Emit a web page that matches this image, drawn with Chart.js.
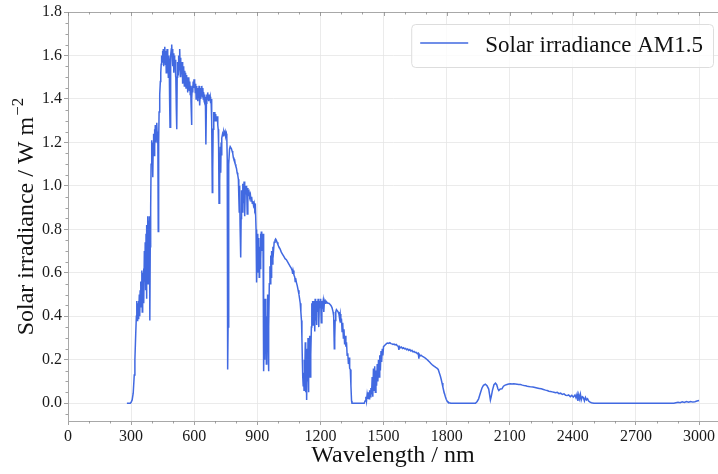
<!DOCTYPE html>
<html lang="en">
<head>
  <meta charset="UTF-8" />
  <title>Solar irradiance AM1.5</title>
  <script src="https://cdn.jsdelivr.net/npm/chart.js@4.4.1/dist/chart.umd.min.js"></script>
  <style>
    html, body { margin: 0; padding: 0; background: #fff; }
    #spectrum { display: block; }
  </style>
</head>
<body>
  <canvas id="spectrum" width="718" height="474"></canvas>

  <script>
    // AM1.5 spectrum, [wavelength nm, irradiance], split by band
    const uvBlue = [
      [280,0],[288,0],[296,0],[300,0.004],[305,0.015],[310,0.046],[315,0.13],[318,0.2],[322,0.32],[325,0.40],
      [327,0.47],[329,0.38],[331,0.46],[333,0.39],[335,0.47],[337,0.41],[339,0.5],[341,0.4],[343,0.52],[345,0.44],
      [347,0.56],[349,0.48],[351,0.61],[353,0.42],[355,0.6],[357,0.51],[359,0.62],[361,0.46],[363,0.7],[365,0.56],
      [367,0.74],[369,0.52],[371,0.78],[373,0.48],[375,0.82],[377,0.58],[379,0.86],[381,0.55],[383,0.84],[385,0.62],
      [387,0.86],[389,0.38],[391,0.72],[393,0.9],[395,1.1],[397,1.21],[399,1.14],[401,1.2],[403,1.04],[405,1.18],
      [407,1.24],[409,1.14],[411,1.26],[413,1.18],[415,1.28],[417,1.2],[419,1.27],[421,1.22],[423,1.29],[425,1.2],
      [427,1.25],[429,0.79],[431,1.2],[433,1.34],[435,1.38],[437,1.42],[439,1.48]
    ];
    const visible = [
      [441,1.52],[443,1.56],[445,1.6],[447,1.57],[449,1.62],[451,1.58],[453,1.63],[455,1.55],[457,1.62],[459,1.6],
      [461,1.64],[463,1.56],[465,1.62],[467,1.52],[469,1.6],[471,1.63],[473,1.55],[475,1.61],[477,1.5],[479,1.6],
      [481,1.58],[483,1.4],[485,1.27],[487,1.45],[489,1.6],[491,1.63],[493,1.65],[495,1.6],[497,1.63],[499,1.55],
      [501,1.61],[503,1.52],[505,1.6],[507,1.55],[509,1.58],[511,1.5],[513,1.54],[515,1.35],[517,1.26],[519,1.5],
      [521,1.57],[523,1.53],[525,1.6],[527,1.52],[529,1.58],[531,1.63],[533,1.55],[535,1.59],[537,1.5],[539,1.56],
      [541,1.52],[543,1.57],[545,1.47],[547,1.55],[549,1.5],[551,1.54],[553,1.46],[555,1.53],[557,1.49],[559,1.52],
      [561,1.45],[563,1.51],[565,1.46],[567,1.5],[569,1.43],[571,1.49],[573,1.45],[575,1.5],[577,1.44],[579,1.48],
      [581,1.42],[583,1.46],[585,1.38],[587,1.28],[589,1.4],[591,1.46],[593,1.43],[595,1.48],[597,1.45],[599,1.49],
      [601,1.46],[603,1.48],[605,1.43],[607,1.47],[609,1.4],[611,1.46],[613,1.42],[615,1.45],[617,1.39],[619,1.44],
      [621,1.41],[623,1.46],[625,1.4],[627,1.37],[629,1.44],[631,1.4],[633,1.45],[635,1.42],[637,1.46],[639,1.41],
      [641,1.45],[643,1.4],[645,1.43],[647,1.39],[649,1.42],[651,1.38],[653,1.41],[655,1.3],[656,1.19],[658,1.38],
      [660,1.42],[662,1.4],[664,1.43],[666,1.41],[668,1.42],[670,1.39],[672,1.42],[674,1.4],[676,1.41],[678,1.38],
      [680,1.4],[682,1.36],[684,1.3],[686,0.97],[688,1.08],[690,1.26],[692,1.3],[694,1.34],[696,1.31],[698,1.34],
      [700,1.3],[702,1.33],[704,1.3],[706,1.32],[708,1.3],[710,1.32],[712,1.28],[714,1.26],[716,1.18],[718,0.92],
      [720,1.12],[722,1.02],[724,1.18],[726,1.06],[728,1.2],[730,1.14],[732,1.22],[735,1.24],[738,1.23],[741,1.25],
      [744,1.24],[747,1.25],[750,1.23],[753,1.24],[755,1.22],[757,1.12],[759,0.155]
    ];
    const nearIR = [
      [761,0.35],[763,0.85],[765,1.1],[768,1.17],[771,1.18],[774,1.18],[777,1.17],[780,1.16],[783,1.15],[786,1.13],
      [789,1.12],[792,1.12],[795,1.1],[798,1.09],[801,1.08],[804,1.06],[807,1.05],[810,1.03],[812,0.95],[814,0.88],
      [816,1.0],[818,0.82],[821,0.67],[823,0.85],[825,0.98],[828,0.88],[831,1.01],[834,0.92],[837,1.02],[840,0.86],
      [843,1.0],[846,0.96],[849,1.0],[852,0.87],[855,0.99],[858,0.96],[861,0.97],[864,0.95],[867,0.96],[870,0.93],
      [873,0.95],[876,0.92],[879,0.93],[882,0.91],[885,0.92],[888,0.89],[891,0.9],[894,0.8],[896,0.7],[897,0.555],
      [899,0.72],[901,0.6],[903,0.78],[905,0.64],[907,0.76],[909,0.58],[911,0.72],[913,0.62],[915,0.78],[917,0.66],
      [919,0.79],[921,0.7],[923,0.78],[925,0.72],[927,0.78],[929,0.5],[931,0.147],[933,0.35],[935,0.2],[937,0.48],
      [939,0.26],[941,0.44],[943,0.18],[945,0.4],[947,0.25],[949,0.5],[951,0.3],[953,0.147],[955,0.35],[957,0.55],
      [960,0.63],[962,0.55],[964,0.68],[966,0.58],[968,0.7],[971,0.64],[974,0.72],[977,0.7],[980,0.74],[984,0.75],
      [987,0.755],[990,0.75],[994,0.74],[998,0.73]
    ];
    const ir1000 = [
      [1002,0.72],[1008,0.71],[1014,0.695],[1020,0.685],[1026,0.675],[1032,0.665],[1038,0.66],[1044,0.65],[1050,0.64],
      [1056,0.63],[1062,0.62],[1066,0.61],[1068,0.595],[1070,0.61],[1074,0.59],[1078,0.58],[1080,0.56],[1082,0.575],
      [1086,0.555],[1090,0.54],[1094,0.52],[1098,0.5],[1101,0.48],[1104,0.46],[1107,0.42],[1110,0.38],[1112,0.3],
      [1114,0.2],[1116,0.12],[1118,0.08],[1120,0.14],[1122,0.06],[1124,0.2],[1126,0.1],[1128,0.28],[1130,0.05],
      [1132,0.25],[1134,0.03],[1135,0.015],[1137,0.22],[1139,0.1],[1141,0.3],[1143,0.05],[1145,0.28],[1147,0.15],
      [1149,0.31],[1151,0.12],[1153,0.3],[1155,0.22],[1157,0.35],[1159,0.46],[1161,0.4],[1163,0.47],[1165,0.36],
      [1167,0.47],[1169,0.4],[1171,0.46],[1173,0.33],[1175,0.48],[1177,0.38],[1179,0.47],[1181,0.36],[1183,0.46],
      [1186,0.42],[1189,0.48],[1192,0.35],[1195,0.47],[1198,0.44],[1201,0.48],[1204,0.37],[1207,0.47],[1210,0.45],
      [1213,0.47],[1216,0.42],[1219,0.47],[1222,0.46],[1226,0.47],[1230,0.465],[1235,0.46],[1240,0.46],[1245,0.455],
      [1250,0.45],[1255,0.44],[1260,0.42],[1263,0.4],[1266,0.25],[1268,0.3],[1270,0.38],[1273,0.42],[1276,0.43],
      [1280,0.425],[1284,0.42],[1288,0.41],[1291,0.39],[1294,0.41],[1297,0.37],[1300,0.39],[1303,0.33],[1306,0.37],
      [1309,0.3],[1312,0.34],[1315,0.27],[1318,0.31],[1321,0.26],[1324,0.28],[1327,0.22],[1330,0.23],[1333,0.18],
      [1336,0.21],[1339,0.16],[1342,0.155],[1345,0.08],[1348,0.01]
    ];
    const ir1350 = [
      [1350,0],[1370,0],[1390,0],[1408,0],[1412,0.01],[1416,0.03],[1419,0.01],[1422,0.04],[1425,0.02],[1428,0.05],
      [1431,0.02],[1434,0.06],[1437,0.03],[1440,0.07],[1443,0.04],[1446,0.12],[1449,0.03],[1452,0.16],[1455,0.06],
      [1458,0.17],[1461,0.05],[1464,0.15],[1467,0.08],[1470,0.18],[1473,0.1],[1476,0.2],[1479,0.12],[1482,0.22],
      [1485,0.15],[1488,0.24],[1491,0.19],[1494,0.25],[1497,0.22],[1500,0.26],[1505,0.265],[1510,0.27],[1515,0.275],
      [1520,0.277],[1525,0.275],[1530,0.278],[1535,0.274],[1540,0.273],[1545,0.27],[1550,0.272],[1555,0.268],
      [1560,0.27],[1565,0.265],[1570,0.262],[1573,0.245],[1576,0.26],[1580,0.255],[1585,0.258],[1590,0.252],
      [1595,0.255],[1600,0.25],[1605,0.252],[1610,0.246],[1615,0.249],[1620,0.243],[1625,0.247],[1630,0.24],
      [1635,0.243],[1640,0.236],[1645,0.238],[1650,0.233],[1655,0.234],[1660,0.228],[1665,0.23],[1668,0.205],
      [1670,0.225],[1675,0.218],[1680,0.22],[1685,0.215],[1690,0.213],[1695,0.21],[1700,0.206],[1705,0.202],
      [1710,0.198],[1715,0.193],[1720,0.188],[1725,0.183],[1730,0.178],[1735,0.174],[1740,0.17],[1745,0.167],
      [1750,0.163],[1755,0.16],[1760,0.155],[1765,0.14],[1770,0.125],[1774,0.11],[1778,0.093],[1782,0.075],
      [1786,0.058],[1790,0.043],[1794,0.03],[1798,0.018],[1802,0.01],[1806,0.005],[1812,0.002],[1820,0]
    ];
    const ir1820 = [
      [1850,0],[1900,0],[1937,0],[1945,0.008],[1952,0.02],[1960,0.046],[1968,0.07],[1975,0.082],[1984,0.087],
      [1992,0.08],[2000,0.065],[2004,0.04],[2008,0.014],[2012,0.03],[2018,0.06],[2025,0.085],[2032,0.092],
      [2038,0.085],[2044,0.065],[2048,0.058],[2055,0.065],[2063,0.066],[2070,0.078],[2078,0.083],[2087,0.086],
      [2095,0.088],[2103,0.089],[2111,0.088],[2119,0.089],[2127,0.088],[2135,0.087],[2143,0.086],[2151,0.086],
      [2160,0.083],[2168,0.081],[2176,0.08],[2183,0.078],[2190,0.077],[2200,0.075],[2210,0.074],[2220,0.072],
      [2230,0.07],[2240,0.068],[2250,0.066],[2260,0.063],[2270,0.06],[2278,0.058],[2286,0.055],[2294,0.054],
      [2302,0.052],[2310,0.05],[2318,0.048],[2326,0.05],[2334,0.044],[2342,0.046],[2350,0.04],[2358,0.043],
      [2366,0.036],[2373,0.035],[2380,0.038],[2388,0.03],[2395,0.036],[2402,0.028],[2410,0.038],[2415,0.025],
      [2420,0.042],[2424,0.01],[2428,0.038],[2432,0.02],[2436,0.04],[2440,0.015],[2445,0.03],[2450,0.026],
      [2455,0.01],[2460,0.026],[2465,0.015],[2470,0.02],[2475,0.01],[2480,0.006],[2488,0.002],[2500,0],[2600,0],
      [2700,0],[2800,0],[2880,0],[2890,0.002],[2900,0.004],[2910,0.002],[2920,0.006],[2930,0.003],[2940,0.007],
      [2950,0.004],[2960,0.008],[2970,0.005],[2980,0.007],[2990,0.01],[3000,0.012]
    ];

    const xTicks = [0, 300, 600, 900, 1200, 1500, 1800, 2100, 2400, 2700, 3000];
    const yTicks = [0, 0.2, 0.4, 0.6, 0.8, 1.0, 1.2, 1.4, 1.6, 1.8];
    const seriesLabel = 'Solar irradiance AM1.5';

    const lineColor = '#4169e1';
    const family = "'Liberation Serif', 'DejaVu Serif', serif";
    const spineColor = '#a8a8a8';

    const points = [...uvBlue, ...visible, ...nearIR, ...ir1000, ...ir1350, ...ir1820]
      .map(([x, y]) => ({ x, y }));

    // top spine, minor ticks, rotated y label with superscript, framed legend
    const frame = {
      id: 'frame',
      afterDraw(chart) {
        const ctx = chart.ctx;
        const { left, right, top, bottom } = chart.chartArea;
        const xs = chart.scales.x, ys = chart.scales.y;

        ctx.save();
        ctx.strokeStyle = spineColor;
        ctx.lineWidth = 1;
        ctx.beginPath();
        ctx.moveTo(left, top + 0.5);
        ctx.lineTo(right, top + 0.5);
        ctx.stroke();

        ctx.strokeStyle = '#8a8a8a';
        ctx.lineWidth = 0.8;
        ctx.beginPath();
        for (let v = 0; v <= 3000; v += 100) {
          const px = Math.round(xs.getPixelForValue(v)) + 0.5;
          const len = v % 300 === 0 ? 4 : 2.5;
          if (v % 300 !== 0) {
            ctx.moveTo(px, bottom);
            ctx.lineTo(px, bottom + len);
          }
          ctx.moveTo(px, top);
          ctx.lineTo(px, top + len);
        }
        for (let i = -1; i <= 36; i++) {
          if (i % 4 === 0) continue;
          const py = Math.round(ys.getPixelForValue(i * 0.05)) + 0.5;
          ctx.moveTo(left - 2.5, py);
          ctx.lineTo(left, py);
        }
        ctx.stroke();

        // y axis title
        ctx.fillStyle = '#111';
        ctx.textAlign = 'left';
        ctx.textBaseline = 'alphabetic';
        ctx.translate(33, (top + bottom) / 2);
        ctx.rotate(-Math.PI / 2);
        const main = 'Solar irradiance / W m', sup = '\u22122';
        ctx.font = `24px ${family}`;
        const w1 = ctx.measureText(main).width;
        ctx.font = `17px ${family}`;
        const w2 = ctx.measureText(sup).width;
        const x0 = -(w1 + w2 + 1) / 2;
        ctx.font = `24px ${family}`;
        ctx.fillText(main, x0, 0);
        ctx.font = `17px ${family}`;
        ctx.fillText(sup, x0 + w1 + 1, -10);
        ctx.restore();

        // legend
        ctx.save();
        const ds = chart.data.datasets[0];
        ctx.font = `23px ${family}`;
        const tw = ctx.measureText(ds.label).width;
        const boxR = right - 5, boxT = top + 12, boxH = 43;
        const textX = boxR - 10 - tw;
        const boxL = textX - 74;
        ctx.beginPath();
        ctx.roundRect(boxL + 0.5, boxT + 0.5, boxR - boxL, boxH, 4);
        ctx.fillStyle = 'rgba(255,255,255,0.8)';
        ctx.fill();
        ctx.strokeStyle = '#dddddd';
        ctx.lineWidth = 1;
        ctx.stroke();
        ctx.strokeStyle = ds.borderColor;
        ctx.lineWidth = 1.5;
        ctx.beginPath();
        ctx.moveTo(boxL + 9, boxT + 19);
        ctx.lineTo(boxL + 57, boxT + 19);
        ctx.stroke();
        ctx.fillStyle = '#111';
        ctx.textBaseline = 'alphabetic';
        ctx.fillText(ds.label, textX, boxT + 28);
        ctx.restore();
      }
    };

    new Chart(document.getElementById('spectrum'), {
      type: 'line',
      data: {
        datasets: [{
          label: seriesLabel,
          data: points,
          borderColor: lineColor,
          backgroundColor: lineColor,
          borderWidth: 1.5,
          pointRadius: 0,
          tension: 0,
          fill: false
        }]
      },
      options: {
        responsive: false,
        animation: false,
        parsing: false,
        normalized: true,
        layout: { padding: { top: 12, right: 0, bottom: 0, left: 0 } },
        plugins: {
          legend: { display: false },
          tooltip: { enabled: false }
        },
        scales: {
          x: {
            type: 'linear',
            min: 0,
            max: 3090,
            afterBuildTicks: s => { s.ticks = xTicks.map(v => ({ value: v })); },
            afterFit: s => { s.height = 53; },
            grid: { color: '#e6e6e6', lineWidth: 0.8, tickColor: '#8a8a8a', tickLength: 4, tickWidth: 0.8 },
            border: { color: spineColor, width: 1 },
            ticks: {
              color: '#1a1a1a',
              font: { family, size: 16 },
              padding: 2,
              maxRotation: 0,
              autoSkip: false,
              callback: v => String(v)
            },
            title: {
              display: true,
              text: 'Wavelength / nm',
              color: '#111',
              font: { family, size: 24 },
              padding: { top: 0, bottom: 4 }
            }
          },
          y: {
            type: 'linear',
            min: -0.082,
            max: 1.8,
            afterBuildTicks: s => { s.ticks = yTicks.map(v => ({ value: v })); },
            afterFit: s => { s.width = 68; },
            grid: { color: '#e6e6e6', lineWidth: 0.8, tickColor: '#8a8a8a', tickLength: 4, tickWidth: 0.8 },
            border: { color: spineColor, width: 1 },
            ticks: {
              color: '#1a1a1a',
              font: { family, size: 16 },
              padding: 2,
              callback: v => v.toFixed(1)
            }
          }
        }
      },
      plugins: [frame]
    });
  </script>
</body>
</html>
